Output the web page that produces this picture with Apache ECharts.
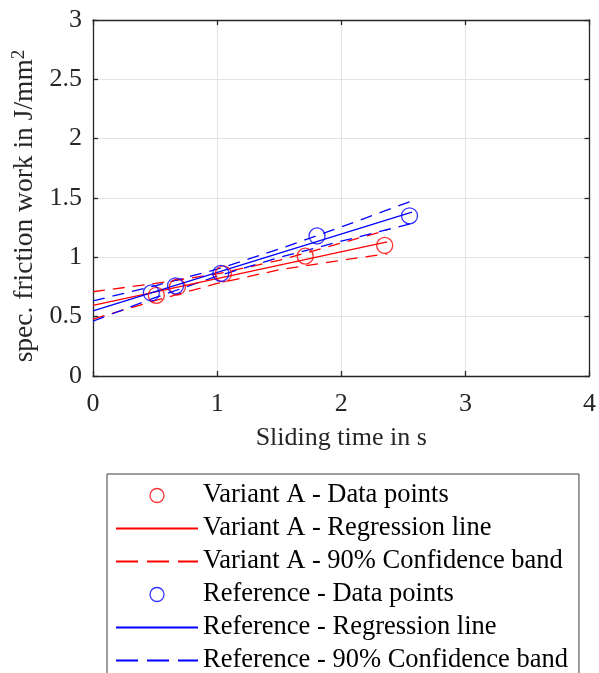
<!DOCTYPE html>
<html>
<head>
<meta charset="utf-8">
<script src="https://cdn.jsdelivr.net/npm/echarts@6/dist/echarts.min.js"></script>
<style>
  html, body { margin: 0; padding: 0; background: #fff; }
  #chart { width: 599px; height: 673px; }
</style>
</head>
<body>
<div id="chart"></div>
<script>
// Data
const variantPoints = [[0.51, 0.68], [0.68, 0.75], [1.05, 0.86], [1.71, 1.01], [2.35, 1.10]];
const referencePoints = [[0.47, 0.70], [0.665, 0.76], [1.03, 0.865], [1.805, 1.18], [2.55, 1.35]];

const variantFit = [[0, 0.595], [2.37, 1.131]];
const referenceFit = [[0, 0.548], [2.57, 1.381]];

const bandX_A = [0, 0.5, 1.0, 1.5, 2.0, 2.37];
const variantUpper = [0.71, 0.78, 0.86, 0.975, 1.12, 1.23];
const variantLower = [0.48, 0.635, 0.78, 0.895, 0.975, 1.03];

const bandX_R = [0, 0.5, 1.0, 1.5, 2.0, 2.57];
const referenceUpper = [0.633, 0.76, 0.90, 1.07, 1.256, 1.476];
const referenceLower = [0.463, 0.66, 0.842, 0.999, 1.136, 1.286];

const xTicks = [0, 1, 2, 3, 4];
const yTicks = [0, 0.5, 1, 1.5, 2, 2.5, 3];

const RED = '#ff0000';
const BLUE = '#0000ff';
const FONT = 'Liberation Serif';
const AXIS = '#262626';

const zip = (xs, ys) => xs.map((x, i) => [x, ys[i]]);

const chart = echarts.init(document.getElementById('chart'));

const tickStyle = { show: true, inside: true, length: 5, lineStyle: { color: AXIS, width: 1.3 } };

function lineSeries(name, data, color, dashed) {
    return {
        name: name,
        type: 'line',
        data: data,
        symbol: 'none',
        silent: true,
        lineStyle: { color: color, width: 1.3, type: dashed ? [12, 8] : 'solid' },
        itemStyle: { color: color },
        z: 3,
    };
}

function pointSeries(name, data, color) {
    return {
        name: name,
        type: 'scatter',
        data: data,
        symbol: 'circle',
        symbolSize: 16,
        itemStyle: { color: 'rgba(0,0,0,0)', borderColor: color, borderWidth: 1.3 },
        z: 4,
    };
}

// legend entries: circles for points, bare lines for the rest
const circleEntry = (name, color) => ({
    name: name, icon: 'circle',
    itemStyle: { color: 'rgba(0,0,0,0)', borderColor: color, borderWidth: 1.3 },
});
const lineEntry = name => ({ name: name, itemStyle: { opacity: 0 } });
const dashEntry = name => ({ name: name, itemStyle: { opacity: 0 }, lineStyle: { type: [22, 9] } });

chart.setOption({
    animation: false,
    textStyle: { fontFamily: FONT },
    grid: { left: 93, top: 20, right: 7, bottom: 297, containLabel: false },
    legend: {
        orient: 'vertical',
        left: 107,
        top: 474,
        height: 240,
        padding: [8, 11, 24, 8],
        borderColor: '#3c3c3c',
        borderWidth: 1,
        backgroundColor: '#fff',
        itemWidth: 82,
        itemHeight: 14,
        itemGap: 6,
        textStyle: { fontFamily: FONT, fontSize: 26.5, lineHeight: 27, color: '#000' },
        data: [
            circleEntry('Variant A - Data points', RED),
            lineEntry('Variant A - Regression line'),
            dashEntry('Variant A - 90% Confidence band'),
            circleEntry('Reference - Data points', BLUE),
            lineEntry('Reference - Regression line'),
            dashEntry('Reference - 90% Confidence band'),
        ],
    },
    xAxis: [{
        type: 'value',
        min: 0, max: 4, interval: 1,
        name: 'Sliding time in s',
        nameLocation: 'middle',
        nameGap: 49,
        nameTextStyle: { fontFamily: FONT, fontSize: 26, color: '#262626' },
        axisLine: { show: true, onZero: false, lineStyle: { color: AXIS, width: 1.3 } },
        axisTick: tickStyle,
        axisLabel: { fontFamily: FONT, fontSize: 26, color: '#262626', margin: 15,
            formatter: v => xTicks.includes(v) ? String(v) : '' },
        splitLine: { show: true, lineStyle: { color: '#e3e3e3', width: 1 } },
    }, {
        type: 'value',
        position: 'top',
        min: 0, max: 4, interval: 1,
        axisLine: { show: true, onZero: false, lineStyle: { color: AXIS, width: 1.3 } },
        axisTick: tickStyle,
        axisLabel: { show: false },
        splitLine: { show: false },
    }],
    yAxis: [{
        type: 'value',
        min: 0, max: 3, interval: 0.5,
        name: 'spec. friction work in J/mm{sup|2}',
        nameLocation: 'middle',
        nameGap: 51,
        nameTextStyle: {
            fontFamily: FONT, fontSize: 27.5, color: '#262626',
            padding: [0, 16, 0, 0],
            rich: { sup: { fontFamily: FONT, fontSize: 19, verticalAlign: 'top', padding: [0, 0, 12, 0], color: '#262626' } },
        },
        axisLine: { show: true, onZero: false, lineStyle: { color: AXIS, width: 1.3 } },
        axisTick: tickStyle,
        axisLabel: { fontFamily: FONT, fontSize: 26, color: '#262626', margin: 11,
            formatter: v => yTicks.includes(v) ? String(v) : '' },
        splitLine: { show: true, lineStyle: { color: '#e3e3e3', width: 1 } },
    }, {
        type: 'value',
        position: 'right',
        min: 0, max: 3, interval: 0.5,
        axisLine: { show: true, onZero: false, lineStyle: { color: AXIS, width: 1.3 } },
        axisTick: tickStyle,
        axisLabel: { show: false },
        splitLine: { show: false },
    }],
    series: [
        lineSeries('Variant A - 90% Confidence band', zip(bandX_A, variantUpper), RED, true),
        lineSeries('Variant A - 90% Confidence band', zip(bandX_A, variantLower), RED, true),
        lineSeries('Reference - 90% Confidence band', zip(bandX_R, referenceUpper), BLUE, true),
        lineSeries('Reference - 90% Confidence band', zip(bandX_R, referenceLower), BLUE, true),
        lineSeries('Variant A - Regression line', variantFit, RED, false),
        lineSeries('Reference - Regression line', referenceFit, BLUE, false),
        pointSeries('Variant A - Data points', variantPoints, RED),
        pointSeries('Reference - Data points', referencePoints, BLUE),
    ],
});

window.addEventListener('resize', () => chart.resize());
</script>
</body>
</html>
